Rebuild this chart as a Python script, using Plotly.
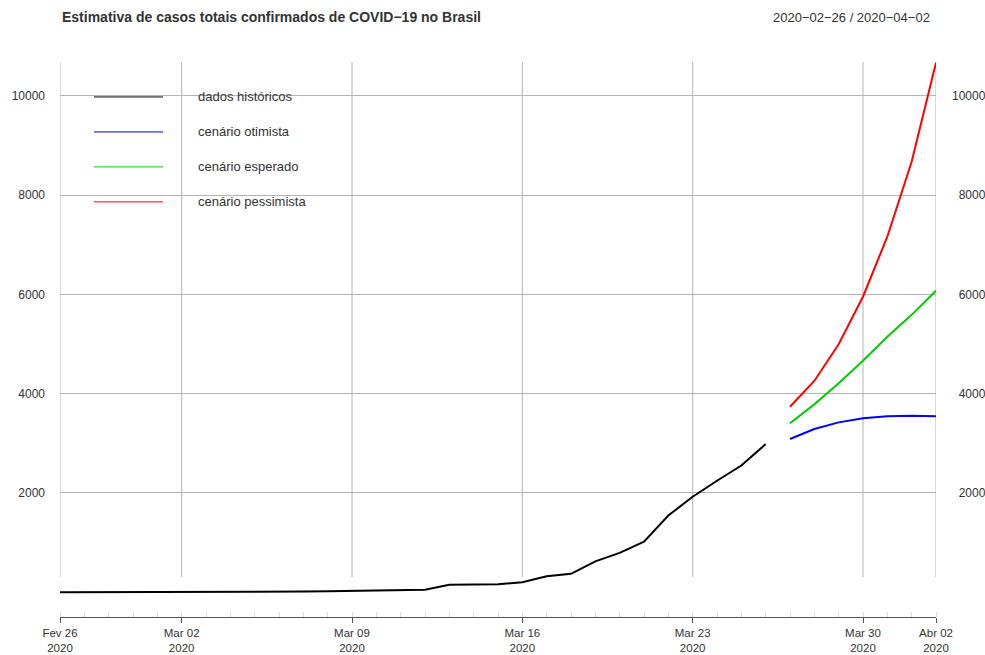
import pandas as pd
import plotly.graph_objects as go

# Historical confirmed cases (Feb 26 - Mar 26, 2020)
hist_dates = pd.date_range("2020-02-26", "2020-03-26", freq="D")
hist_cases = [1, 1, 1, 2, 2, 2, 2, 4, 4, 13, 13, 20, 25, 31, 38, 52,
              151, 151, 162, 200, 321, 372, 621, 793, 1021, 1546, 1924,
              2247, 2554, 2985]

# Projections (Mar 27 - Apr 02, 2020)
proj_dates = pd.date_range("2020-03-27", "2020-04-02", freq="D")
otimista = [3088, 3289, 3423, 3504, 3545, 3558, 3545]
esperado = [3404, 3786, 4210, 4665, 5149, 5590, 6076]
pessimista = [3739, 4257, 4996, 5955, 7164, 8675, 10670]

series_names = ["dados históricos", "cenário otimista", "cenário esperado", "cenário pessimista"]
series_colors = ["#000000", "#0000ff", "#00cc00", "#ff0000"]

tick_dates = ["2020-02-26", "2020-03-02", "2020-03-09", "2020-03-16",
              "2020-03-23", "2020-03-30", "2020-04-02"]
tick_labels = ["Fev 26<br>2020", "Mar 02<br>2020", "Mar 09<br>2020", "Mar 16<br>2020",
               "Mar 23<br>2020", "Mar 30<br>2020", "Abr 02<br>2020"]
y_ticks = [2000, 4000, 6000, 8000, 10000]

FONT = "Liberation Sans, Arial, Helvetica, sans-serif"
TXT = "#333333"
GRID = "#b4b4b4"

fig = go.Figure()
fig.add_trace(go.Scatter(x=hist_dates, y=hist_cases, mode="lines", name=series_names[0],
                         line=dict(color=series_colors[0], width=2), showlegend=False))
fig.add_trace(go.Scatter(x=proj_dates, y=otimista, mode="lines", name=series_names[1],
                         line=dict(color=series_colors[1], width=2), showlegend=False,
                         yaxis="y2"))
fig.add_trace(go.Scatter(x=proj_dates, y=esperado, mode="lines", name=series_names[2],
                         line=dict(color=series_colors[2], width=2), showlegend=False))
fig.add_trace(go.Scatter(x=proj_dates, y=pessimista, mode="lines", name=series_names[3],
                         line=dict(color=series_colors[3], width=2), showlegend=False))

# vertical grid lines stop short of the date axis
for d in tick_dates:
    fig.add_shape(type="line", xref="x", yref="paper", x0=d, x1=d, y0=0.072, y1=1,
                  line=dict(color=GRID, width=1), layer="below")

# hand-drawn legend in the upper-left corner
leg_y = [0.937, 0.874, 0.811, 0.748]
for name, color, yy in zip(series_names, series_colors, leg_y):
    fig.add_shape(type="line", xref="paper", yref="paper", x0=0.0388, x1=0.1176,
                  y0=yy, y1=yy, line=dict(color=color, width=1))
    fig.add_annotation(xref="paper", yref="paper", x=0.1553, y=yy, text=name,
                       showarrow=False, xanchor="left", yanchor="middle",
                       font=dict(family=FONT, size=13, color=TXT))

fig.add_annotation(xref="paper", yref="paper", x=0, y=1.081,
                   text="<b>Estimativa de casos totais confirmados de COVID\u221219 no Brasil</b>",
                   showarrow=False, xanchor="left", yanchor="middle",
                   font=dict(family=FONT, size=14, color=TXT))
fig.add_annotation(xref="paper", yref="paper", x=0.995, y=1.081,
                   text="2020\u221202\u221226 / 2020\u221204\u221202",
                   showarrow=False, xanchor="right", yanchor="middle",
                   font=dict(family=FONT, size=13, color=TXT))

y_range = [-499, 10685]
fig.update_layout(
    width=985, height=655,
    margin=dict(l=60, r=49, t=62, b=38, autoexpand=False),
    plot_bgcolor="white", paper_bgcolor="white",
    font=dict(family=FONT, size=12, color=TXT),
    showlegend=False,
    xaxis=dict(
        type="date", range=["2020-02-26", "2020-04-02"], automargin=False,
        tickvals=tick_dates, ticktext=tick_labels,
        showgrid=False, zeroline=False,
        showline=True, linecolor="#555555", linewidth=1,
        ticks="outside", ticklen=5, tickcolor="#555555",
        minor=dict(ticks="inside", dtick=86400000, ticklen=5, tickcolor="#dddddd",
                   showgrid=False),
        tickfont=dict(size=11.5, color=TXT),
    ),
    yaxis=dict(
        range=y_range, tickvals=y_ticks, ticktext=[str(v) for v in y_ticks],
        automargin=False,
        showgrid=True, gridcolor=GRID, gridwidth=1, zeroline=False,
        showline=False, ticks="", ticklabelstandoff=14,
        tickfont=dict(size=12, color=TXT),
    ),
    yaxis2=dict(
        overlaying="y", side="right", matches="y", range=y_range, automargin=False,
        tickvals=y_ticks,
        ticktext=[("\u2007" * (5 - len(str(v)))) + str(v) for v in y_ticks],
        showgrid=False, zeroline=False, showline=False, ticks="",
        ticklabelstandoff=15,
        tickfont=dict(size=12, color=TXT),
    ),
)

fig.write_html("out.html", config={"displayModeBar": False})
